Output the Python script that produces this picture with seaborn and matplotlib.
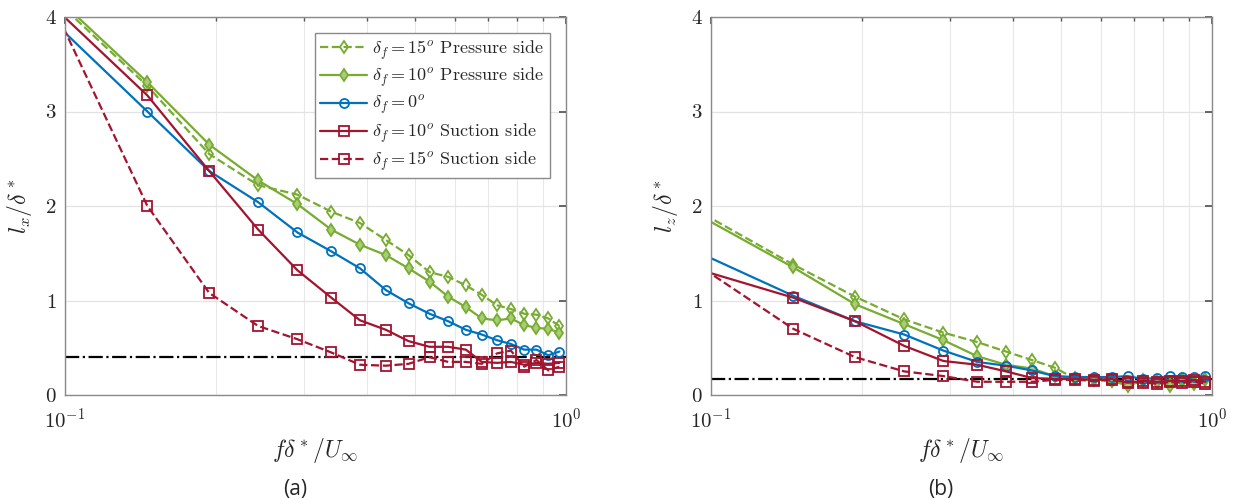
import numpy as np
import matplotlib
matplotlib.use("Agg")
import matplotlib.pyplot as plt
import seaborn as sns
from matplotlib.ticker import LogLocator, NullFormatter

# frequency f*delta/U_inf
freq = [0.097, 0.146, 0.194, 0.243, 0.291, 0.340, 0.388, 0.437, 0.485, 0.534,
        0.582, 0.631, 0.679, 0.728, 0.776, 0.825, 0.873, 0.922, 0.970]

# (a) lx / delta*
lx_p15 = [4.15, 3.27, 2.55, 2.22, 2.12, 1.94, 1.82, 1.64, 1.48, 1.30,
          1.25, 1.16, 1.06, 0.95, 0.91, 0.86, 0.85, 0.81, 0.73]
lx_p10 = [4.19, 3.31, 2.65, 2.27, 2.02, 1.75, 1.59, 1.48, 1.34, 1.20,
          1.04, 0.93, 0.81, 0.79, 0.81, 0.74, 0.71, 0.70, 0.66]
lx_0 = [3.90, 3.00, 2.37, 2.04, 1.72, 1.52, 1.34, 1.11, 0.97, 0.86,
        0.78, 0.69, 0.64, 0.58, 0.54, 0.48, 0.48, 0.42, 0.46]
lx_s10 = [4.06, 3.17, 2.37, 1.75, 1.32, 1.03, 0.79, 0.69, 0.57, 0.51,
          0.51, 0.48, 0.35, 0.34, 0.35, 0.32, 0.34, 0.33, 0.34]
lx_s15 = [4.00, 2.00, 1.08, 0.73, 0.59, 0.45, 0.32, 0.31, 0.33, 0.40,
          0.35, 0.35, 0.33, 0.44, 0.47, 0.30, 0.37, 0.26, 0.30]

# (b) lz / delta*
lz_p15 = [1.91, 1.38, 1.04, 0.80, 0.66, 0.56, 0.46, 0.37, 0.29, 0.17,
          0.16, 0.15, 0.12, 0.16, 0.15, 0.12, 0.15, 0.14, 0.16]
lz_p10 = [1.87, 1.35, 0.96, 0.75, 0.58, 0.41, 0.32, 0.28, 0.20, 0.18,
          0.17, 0.15, 0.10, 0.15, 0.14, 0.10, 0.17, 0.12, 0.17]
lz_0 = [1.48, 1.05, 0.78, 0.64, 0.47, 0.35, 0.31, 0.26, 0.20, 0.19,
        0.19, 0.19, 0.20, 0.17, 0.18, 0.20, 0.19, 0.19, 0.20]
lz_s10 = [1.31, 1.03, 0.78, 0.52, 0.36, 0.32, 0.25, 0.18, 0.17, 0.17,
          0.16, 0.17, 0.13, 0.15, 0.14, 0.15, 0.15, 0.16, 0.14]
lz_s15 = [1.33, 0.70, 0.40, 0.25, 0.20, 0.14, 0.14, 0.14, 0.16, 0.16,
          0.15, 0.16, 0.14, 0.13, 0.12, 0.14, 0.13, 0.14, 0.12]

ref_lx = 0.4
ref_lz = 0.165

labels = [r"$\delta_f = 15^o$ Pressure side",
          r"$\delta_f = 10^o$ Pressure side",
          r"$\delta_f = 0^o$",
          r"$\delta_f = 10^o$ Suction side",
          r"$\delta_f = 15^o$ Suction side"]

green = "#77AC30"
blue = "#0072BD"
red = "#A2142F"

sns.set_theme(style="white")
plt.rcParams["font.family"] = ["cmr10", "DejaVu Serif"]
plt.rcParams["mathtext.fontset"] = "cm"
plt.rcParams["axes.formatter.use_mathtext"] = True
plt.rcParams["axes.unicode_minus"] = False

styles = [
    dict(color=green, linestyle="--", marker="d", mfc="none"),
    dict(color=green, linestyle="-", marker="d", mfc="#a9cc78"),
    dict(color=blue, linestyle="-", marker="o", mfc="none"),
    dict(color=red, linestyle="-", marker="s", mfc="none"),
    dict(color=red, linestyle="--", marker="s", mfc="none"),
]

fig = plt.figure(figsize=(12.41, 5), dpi=100)
ax1 = fig.add_axes([0.0524, 0.21, 0.4037, 0.756])
ax2 = fig.add_axes([0.5729, 0.21, 0.4037, 0.756])

panels = [
    (ax1, [lx_p15, lx_p10, lx_0, lx_s10, lx_s15], ref_lx, r"$l_x/\delta^*$"),
    (ax2, [lz_p15, lz_p10, lz_0, lz_s10, lz_s15], ref_lz, r"$l_z/\delta^*$"),
]

for ax, series, ref, ylab in panels:
    for vals, lab, st in zip(series, labels, styles):
        sns.lineplot(x=freq, y=vals, ax=ax, label=lab, linewidth=1.6,
                     markersize=6.5, markeredgewidth=1.3, markeredgecolor=st["color"],
                     errorbar=None, **st)
    ax.axhline(ref, color="black", linestyle="-.", linewidth=1.6, zorder=1)
    ax.set_xscale("log")
    ax.set_xlim(0.1, 1)
    ax.set_ylim(0, 4)
    ax.set_yticks([0, 1, 2, 3, 4])
    ax.xaxis.set_minor_locator(LogLocator(base=10, subs=np.arange(2, 10)))
    ax.xaxis.set_minor_formatter(NullFormatter())
    ax.grid(True, which="major", color="#e3e3e3", linewidth=0.9)
    ax.grid(True, which="minor", axis="x", color="#e8e8e8", linewidth=0.8)
    ax.tick_params(which="both", direction="in", top=True, right=True,
                   colors="#555555", labelcolor="#262626", labelsize=15, pad=6)
    ax.tick_params(axis="x", which="major", pad=9)
    ax.tick_params(which="major", length=5)
    ax.tick_params(which="minor", length=3)
    for sp in ax.spines.values():
        sp.set_color("#8a8a8a")
        sp.set_linewidth(1.0)
    ax.set_xlabel(r"$f\delta^*/U_\infty$", fontsize=17, labelpad=3, color="#262626")
    ax.set_ylabel(ylab, fontsize=17, labelpad=8, color="#262626")

ax2.get_legend().remove()
leg = ax1.legend(loc="upper right", bbox_to_anchor=(0.968, 0.958), borderaxespad=0,
                 fontsize=13, frameon=True, fancybox=False, framealpha=1,
                 edgecolor="#8a8a8a", handlelength=2.6, labelspacing=0.25,
                 borderpad=0.3, handletextpad=0.3)
leg.get_frame().set_linewidth(1.0)

fig.text(0.238, 0.02, "(a)", fontsize=15, family="Open Sans", ha="center", va="center")
fig.text(0.758, 0.02, "(b)", fontsize=15, family="Open Sans", ha="center", va="center")

fig.savefig("out.png", dpi=100)
